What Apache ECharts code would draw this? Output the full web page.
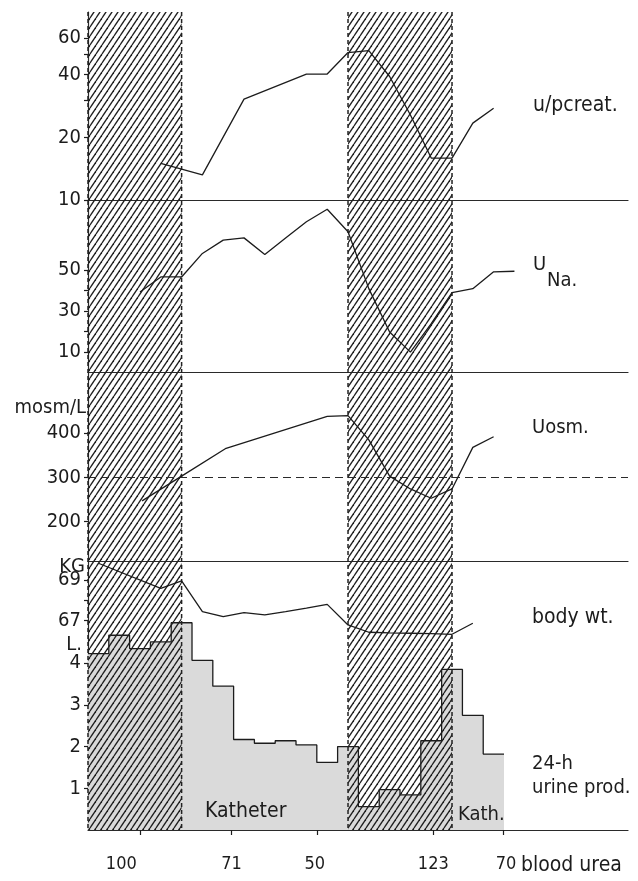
<!DOCTYPE html>
<html><head><meta charset="utf-8">
<script src="https://cdn.jsdelivr.net/npm/echarts@6/dist/echarts.min.js"></script>
<style>html,body{margin:0;padding:0;background:#fff}#c{width:638px;height:881px}</style>
</head><body><div id="c"></div>
<script>
// ---------- data ----------
var dayMax = 25.96;
var hatchBands = [[0, 4.5], [12.5, 17.5]];

var creatDays   = [3.5, 5.5, 7.5, 10.5, 11.5, 12.5, 13.5, 14.5, 15.5, 16.5, 17.5, 18.5, 19.5];
var creatValues = [15.0, 13.2, 30.5, 40.2, 40.3, 51.1, 52.2, 39.2, 25.6, 15.9, 15.9, 23.4, 27.6];

var naDays   = [2.5, 3.5, 4.5, 5.5, 6.5, 7.5, 8.5, 9.5, 10.5, 11.5, 12.5, 13.5, 14.5, 15.5, 16.5, 17.5, 18.5, 19.5, 20.5];
var naValues = [39.4, 46.7, 46.7, 58.2, 64.7, 65.8, 57.7, 65.7, 73.7, 79.8, 68.8, 41.0, 19.8, 10.0, 23.9, 39.0, 41.0, 49.2, 49.5];

var osmDays   = [2.6, 4.5, 6.6, 11.5, 12.5, 13.5, 14.5, 15.5, 16.5, 17.5, 18.5, 19.5];
var osmValues = [247, 303, 365, 438, 440, 385, 303, 274, 253, 274, 368, 392];
var osmReference = 300;

var wtDays   = [0.5, 3.5, 4.5, 5.5, 6.5, 7.5, 8.5, 9.5, 10.5, 11.5, 12.5, 13.5, 14.5, 15.5, 16.5, 17.5, 18.5];
var wtValues = [69.82, 68.59, 68.95, 67.44, 67.2, 67.39, 67.28, 67.44, 67.61, 67.8, 66.79, 66.43, 66.4, 66.38, 66.36, 66.33, 66.87];

var urineDays   = [0, 1, 2, 3, 4, 5, 6, 7, 8, 9, 10, 11, 12, 13, 14, 15, 16, 17, 18, 19, 20];
var urineValues = [4.23, 4.67, 4.35, 4.51, 4.97, 4.07, 3.45, 2.17, 2.08, 2.14, 2.04, 1.62, 2.0, 0.56, 0.97, 0.84, 2.14, 3.85, 2.75, 1.82, 1.82];

var creatTicks = [10, 20, 30, 40, 50, 60];
var creatLabels = [10, 20, 40, 60];
var naTicks = [10, 20, 30, 40, 50];
var naLabels = [10, 30, 50];
var osmTicks = [200, 300, 400];
var wtTicks = [67, 68, 69];
var wtLabels = [67, 69];
var urineTicks = [1, 2, 3, 4];

var ureaTickDays  = [2.5, 6.9, 11.0, 16.6, 19.95];
var ureaLabelDays = [1.6, 6.9, 10.9, 16.6, 20.1];
var ureaLabels    = ['100', '71', '50', '123', '70'];

// ---------- style ----------
var FONT = "'DejaVu Sans Condensed','DejaVu Sans',sans-serif";
var INK = '#1c1c1c';
var log10 = function (v) { return Math.log(v) / Math.LN10; };

function makeHatch() {
  var c = document.createElement('canvas');
  c.width = 6; c.height = 9;
  var g = c.getContext('2d');
  g.strokeStyle = '#1e1e1e';
  g.lineWidth = 1.35;
  for (var k = -1; k <= 1; k++) {
    g.beginPath(); g.moveTo(k * 6, 9); g.lineTo(k * 6 + 6, 0); g.stroke();
  }
  return c;
}
var hatch = makeHatch();

var L = 88, W = 540;
var grids = [
  { left: L, width: W, top: 12, height: 818 },     // overlay
  { left: L, width: W, top: 12, height: 188 },     // u/p creat
  { left: L, width: W, top: 200, height: 174 },    // UNa
  { left: L, width: W, top: 374, height: 187 },    // Uosm
  { left: L, width: W, top: 561, height: 80 },     // body wt
  { left: L, width: W, top: 621.5, height: 208.5 } // urine
];

function xAx(i, showLine) {
  return { type: 'value', gridIndex: i, min: 0, max: dayMax,
    axisLine: { show: showLine, lineStyle: { color: '#2a2a2a', width: 1.2 } },
    axisTick: { show: false }, axisLabel: { show: false }, splitLine: { show: false } };
}
function yAx(i, min, max, ticks, labels, fmt) {
  return { type: 'value', gridIndex: i, min: min, max: max,
    axisLine: { show: false },
    axisTick: { show: true, customValues: ticks, length: 4, lineStyle: { color: INK, width: 1.2 } },
    axisLabel: { show: true, customValues: labels, margin: 7, fontSize: 20, fontFamily: FONT, color: INK,
      formatter: fmt || function (v) { return String(v); } },
    splitLine: { show: false } };
}

var xAxes = [
  { type: 'value', gridIndex: 0, min: 0, max: dayMax,
    axisLine: { show: true, lineStyle: { color: '#2a2a2a', width: 1.2 } },
    axisTick: { show: true, customValues: ureaTickDays, length: 5, lineStyle: { color: INK, width: 1.2 } },
    axisLabel: { show: true, customValues: ureaLabelDays, margin: 25, fontSize: 18, fontFamily: FONT, color: INK,
      formatter: function (v) {
        for (var i = 0; i < ureaLabelDays.length; i++) if (Math.abs(ureaLabelDays[i] - v) < 1e-6) return ureaLabels[i];
        return '';
      } },
    splitLine: { show: false } },
  xAx(1, true), xAx(2, true), xAx(3, true), xAx(4, false), xAx(5, false)
];

var yAxes = [
  { type: 'value', gridIndex: 0, min: 0, max: 1,
    axisLine: { show: true, lineStyle: { color: '#2a2a2a', width: 1.2 } },
    axisTick: { show: false }, axisLabel: { show: false }, splitLine: { show: false } },
  yAx(1, 1, log10(80), creatTicks.map(log10), creatLabels.map(log10),
      function (v) { return String(Math.round(Math.pow(10, v))); }),
  yAx(2, -0.7, 84.3, naTicks, naLabels),
  yAx(3, 111, 534, osmTicks, osmTicks),
  yAx(4, 66, 69.93, wtTicks, wtLabels),
  yAx(5, 0, 5, urineTicks, urineTicks)
];

function lineSeries(idx, days, vals, tf) {
  return { type: 'line', xAxisIndex: idx, yAxisIndex: idx, z: 5, symbol: 'none', silent: true,
    lineStyle: { color: INK, width: 1.3 },
    data: days.map(function (d, i) { return [d, tf ? tf(vals[i]) : vals[i]]; }) };
}

var series = [
  { type: 'line', xAxisIndex: 5, yAxisIndex: 5, z: 2, symbol: 'none', step: 'end', silent: true,
    lineStyle: { color: INK, width: 1.3 },
    areaStyle: { color: '#dadada', opacity: 1 },
    data: urineDays.map(function (d, i) { return [d, urineValues[i]]; }) },
  { type: 'custom', xAxisIndex: 0, yAxisIndex: 0, z: 3, silent: true,
    data: hatchBands, encode: { x: [0, 1] },
    renderItem: function (params, api) {
      var a = api.coord([api.value(0), 1]);
      var b = api.coord([api.value(1), 0]);
      var dash = { stroke: '#222', lineWidth: 1.5, lineDash: [4, 3] };
      return { type: 'group', children: [
        { type: 'rect', shape: { x: a[0], y: a[1], width: b[0] - a[0], height: b[1] - a[1] },
          style: { fill: { image: hatch, repeat: 'repeat' } } },
        { type: 'line', shape: { x1: a[0], y1: a[1], x2: a[0], y2: b[1] }, style: dash },
        { type: 'line', shape: { x1: b[0], y1: a[1], x2: b[0], y2: b[1] }, style: dash }
      ] };
    } },
  lineSeries(1, creatDays, creatValues, log10),
  lineSeries(2, naDays, naValues),
  (function () {
    var s = lineSeries(3, osmDays, osmValues);
    s.markLine = { silent: true, symbol: 'none', label: { show: false },
      lineStyle: { color: '#2a2a2a', type: [8, 5], width: 1.2 },
      data: [{ yAxis: osmReference }] };
    return s;
  })(),
  lineSeries(4, wtDays, wtValues)
];

function txt(x, y, s, align, size) {
  return { type: 'text', x: x, y: y, silent: true, z: 10,
    style: { text: s, fill: INK, font: (size || 20) + 'px ' + FONT, textAlign: align || 'left', textVerticalAlign: 'middle' } };
}

var graphics = [
  txt(533, 106, 'u/pcreat.', 'left', 21),
  txt(533, 265, 'U'),
  txt(547, 281, 'Na.'),
  txt(532, 428, 'Uosm.'),
  txt(86, 408, 'mosm/L', 'right', 20),
  txt(85, 567, 'KG', 'right', 20),
  txt(532, 618, 'body wt.', 'left', 21),
  txt(82, 645, 'L.', 'right', 20),
  txt(532, 764, '24-h'),
  txt(532, 788, 'urine prod.'),
  txt(205, 812, 'Katheter', 'left', 21),
  txt(458, 815, 'Kath.'),
  txt(521, 866, 'blood urea', 'left', 21)
];

var chart = echarts.init(document.getElementById('c'), null, { renderer: 'canvas' });
chart.setOption({
  animation: false,
  backgroundColor: '#ffffff',
  grid: grids,
  xAxis: xAxes,
  yAxis: yAxes,
  series: series,
  graphic: graphics
});
</script>
</body></html>
